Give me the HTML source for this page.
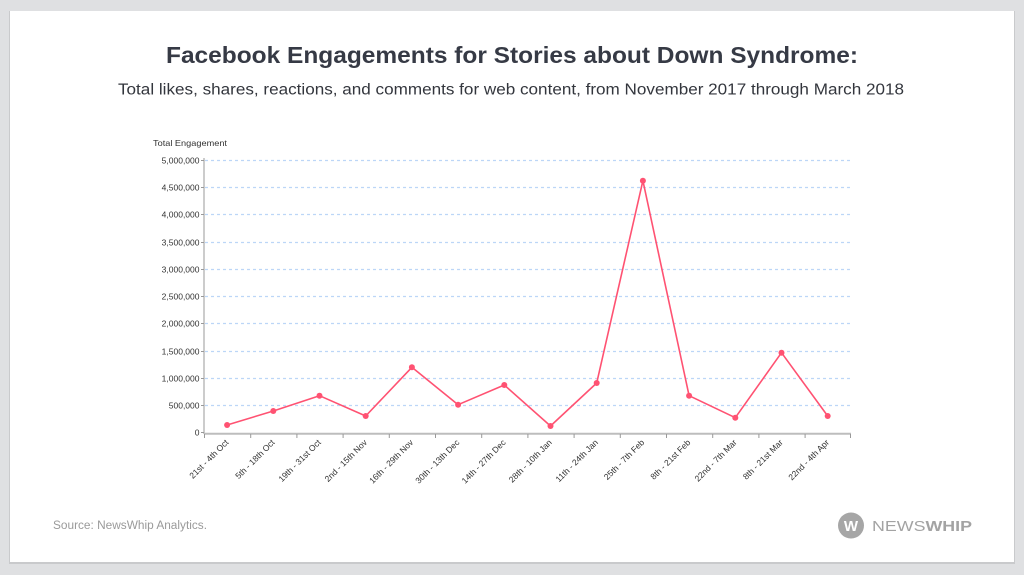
<!DOCTYPE html>
<html><head><meta charset="utf-8"><style>
html,body{margin:0;padding:0;background:#dfe0e2;}
svg{display:block;}
</style></head><body>
<svg width="1024" height="575" viewBox="0 0 1024 575" xmlns="http://www.w3.org/2000/svg" font-family="Liberation Sans, Arial, sans-serif">
<rect x="0" y="0" width="1024" height="575" fill="#dfe0e2"/>
<rect x="9" y="11" width="1006" height="553" fill="#c9cacc"/>
<rect x="10" y="11" width="1004" height="551" fill="#ffffff"/>
<text x="512" y="63" text-anchor="middle" font-size="23" font-weight="bold" fill="#363a45" textLength="692" lengthAdjust="spacingAndGlyphs">Facebook Engagements for Stories about Down Syndrome:</text>
<text x="511" y="94.5" text-anchor="middle" font-size="15.5" fill="#33363d" textLength="786" lengthAdjust="spacingAndGlyphs">Total likes, shares, reactions, and comments for web content, from November 2017 through March 2018</text>
<text x="153" y="146" font-size="8.5" fill="#333" textLength="74" lengthAdjust="spacingAndGlyphs">Total Engagement</text>
<g stroke="#bcd6f7" stroke-width="1.2" stroke-dasharray="3,3">
<line x1="205" y1="160.5" x2="851" y2="160.5"/>
<line x1="205" y1="187.5" x2="851" y2="187.5"/>
<line x1="205" y1="214.5" x2="851" y2="214.5"/>
<line x1="205" y1="242.5" x2="851" y2="242.5"/>
<line x1="205" y1="269.5" x2="851" y2="269.5"/>
<line x1="205" y1="296.5" x2="851" y2="296.5"/>
<line x1="205" y1="323.5" x2="851" y2="323.5"/>
<line x1="205" y1="351.5" x2="851" y2="351.5"/>
<line x1="205" y1="378.5" x2="851" y2="378.5"/>
<line x1="205" y1="405.5" x2="851" y2="405.5"/>
</g>
<g font-size="8.5" fill="#333" text-anchor="end">
<text x="199.5" y="163.5">5,000,000</text>
<text x="199.5" y="190.5">4,500,000</text>
<text x="199.5" y="217.5">4,000,000</text>
<text x="199.5" y="245.5">3,500,000</text>
<text x="199.5" y="272.5">3,000,000</text>
<text x="199.5" y="299.5">2,500,000</text>
<text x="199.5" y="326.5">2,000,000</text>
<text x="199.5" y="354.5">1,500,000</text>
<text x="199.5" y="381.5">1,000,000</text>
<text x="199.5" y="408.5">500,000</text>
<text x="199.5" y="435.5">0</text>
</g>
<line x1="204" y1="158" x2="204" y2="434" stroke="#999" stroke-width="1"/>
<g stroke="#999" stroke-width="1">
<line x1="201" y1="160.5" x2="204" y2="160.5"/>
<line x1="201" y1="187.5" x2="204" y2="187.5"/>
<line x1="201" y1="214.5" x2="204" y2="214.5"/>
<line x1="201" y1="242.5" x2="204" y2="242.5"/>
<line x1="201" y1="269.5" x2="204" y2="269.5"/>
<line x1="201" y1="296.5" x2="204" y2="296.5"/>
<line x1="201" y1="323.5" x2="204" y2="323.5"/>
<line x1="201" y1="351.5" x2="204" y2="351.5"/>
<line x1="201" y1="378.5" x2="204" y2="378.5"/>
<line x1="201" y1="405.5" x2="204" y2="405.5"/>
<line x1="201" y1="432.5" x2="204" y2="432.5"/>
</g>
<line x1="204" y1="433.8" x2="851" y2="433.8" stroke="#bdbdbd" stroke-width="2"/>
<g stroke="#999" stroke-width="1">
<line x1="204.5" y1="434" x2="204.5" y2="438"/>
<line x1="250.7" y1="434" x2="250.7" y2="438"/>
<line x1="296.9" y1="434" x2="296.9" y2="438"/>
<line x1="343.1" y1="434" x2="343.1" y2="438"/>
<line x1="389.3" y1="434" x2="389.3" y2="438"/>
<line x1="435.5" y1="434" x2="435.5" y2="438"/>
<line x1="481.7" y1="434" x2="481.7" y2="438"/>
<line x1="527.9" y1="434" x2="527.9" y2="438"/>
<line x1="574.1" y1="434" x2="574.1" y2="438"/>
<line x1="620.3" y1="434" x2="620.3" y2="438"/>
<line x1="666.5" y1="434" x2="666.5" y2="438"/>
<line x1="712.7" y1="434" x2="712.7" y2="438"/>
<line x1="758.9" y1="434" x2="758.9" y2="438"/>
<line x1="805.1" y1="434" x2="805.1" y2="438"/>
<line x1="850.5" y1="434" x2="850.5" y2="438"/>
</g>
<g font-size="8.5" fill="#333" text-anchor="end">
<text transform="translate(229,443) rotate(-45)">21st - 4th Oct</text>
<text transform="translate(275.2,443) rotate(-45)">5th - 18th Oct</text>
<text transform="translate(321.4,443) rotate(-45)">19th - 31st Oct</text>
<text transform="translate(367.6,443) rotate(-45)">2nd - 15th Nov</text>
<text transform="translate(413.8,443) rotate(-45)">16th - 29th Nov</text>
<text transform="translate(460,443) rotate(-45)">30th - 13th Dec</text>
<text transform="translate(506.2,443) rotate(-45)">14th - 27th Dec</text>
<text transform="translate(552.4,443) rotate(-45)">28th - 10th Jan</text>
<text transform="translate(598.6,443) rotate(-45)">11th - 24th Jan</text>
<text transform="translate(644.8,443) rotate(-45)">25th - 7th Feb</text>
<text transform="translate(691,443) rotate(-45)">8th - 21st Feb</text>
<text transform="translate(737.2,443) rotate(-45)">22nd - 7th Mar</text>
<text transform="translate(783.4,443) rotate(-45)">8th - 21st Mar</text>
<text transform="translate(829.6,443) rotate(-45)">22nd - 4th Apr</text>
</g>
<polyline fill="none" stroke="#ff5272" stroke-width="1.6" stroke-linejoin="round" points="227.1,425 273.3,411 319.5,395.7 365.7,416 411.9,367.3 458.1,404.7 504.3,385 550.5,426 596.7,383 642.9,180.7 689.1,395.7 735.3,417.7 781.5,352.7 827.7,416"/>
<g fill="#ff5272">
<circle cx="227.1" cy="425" r="3"/>
<circle cx="273.3" cy="411" r="3"/>
<circle cx="319.5" cy="395.7" r="3"/>
<circle cx="365.7" cy="416" r="3"/>
<circle cx="411.9" cy="367.3" r="3"/>
<circle cx="458.1" cy="404.7" r="3"/>
<circle cx="504.3" cy="385" r="3"/>
<circle cx="550.5" cy="426" r="3"/>
<circle cx="596.7" cy="383" r="3"/>
<circle cx="642.9" cy="180.7" r="3"/>
<circle cx="689.1" cy="395.7" r="3"/>
<circle cx="735.3" cy="417.7" r="3"/>
<circle cx="781.5" cy="352.7" r="3"/>
<circle cx="827.7" cy="416" r="3"/>
</g>
<text x="53" y="529" font-size="11.5" fill="#9a9a9a" textLength="154" lengthAdjust="spacingAndGlyphs">Source: NewsWhip Analytics.</text>
<circle cx="851" cy="525.5" r="13" fill="#a6a6a6"/>
<text x="851" y="531" text-anchor="middle" font-size="15" font-weight="bold" fill="#ffffff">W</text>
<text x="872" y="531" font-size="15" fill="#a3a3a3" textLength="100" lengthAdjust="spacingAndGlyphs">NEWS<tspan font-weight="bold">WHIP</tspan></text>
</svg>
</body></html>
